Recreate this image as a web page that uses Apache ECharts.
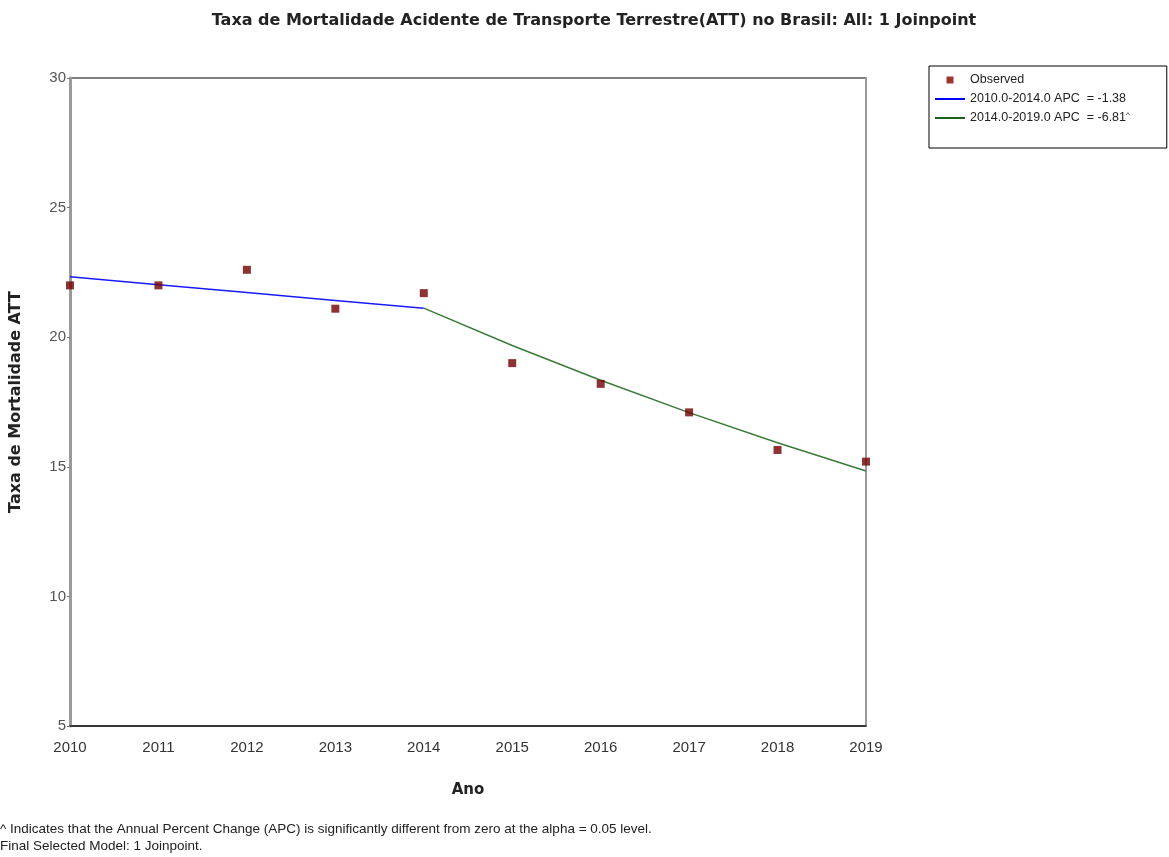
<!doctype html>
<html lang="pt">
<head>
  <meta charset="UTF-8">
  <title>Taxa de Mortalidade ATT</title>
  <style>
    html, body { margin: 0; padding: 0; background: #fff; }
    #chart { width: 1169px; height: 857px; }
  </style>
  <script src="https://cdn.jsdelivr.net/npm/echarts@6/dist/echarts.min.js"></script>
</head>
<body>
  <div id="chart"></div>
  <script>
    // anos e valores
    var anos = [2010, 2011, 2012, 2013, 2014, 2015, 2016, 2017, 2018, 2019];
    var observado = [22.0, 22.0, 22.6, 21.1, 21.7, 19.0, 18.2, 17.1, 15.65, 15.2];
    var anosSeg1 = [2010, 2011, 2012, 2013, 2014];
    var ajusteSeg1 = [22.33, 22.02, 21.72, 21.42, 21.12];
    var anosSeg2 = [2014, 2015, 2016, 2017, 2018, 2019];
    var ajusteSeg2 = [21.12, 19.68, 18.34, 17.09, 15.93, 14.84];
    var yTicks = [5, 10, 15, 20, 25, 30];

    var nomeObs = 'Observed';
    var nomeSeg1 = '2010.0-2014.0 APC  = -1.38';
    var nomeSeg2 = '2014.0-2019.0 APC  = -6.81';

    function pares(xs, ys) {
      var out = [];
      for (var i = 0; i < xs.length; i++) out.push([xs[i], ys[i]]);
      return out;
    }

    var narrow = "'Liberation Sans Narrow', 'Arial Narrow', 'Liberation Sans', sans-serif";

    var myChart = echarts.init(document.getElementById('chart'));

    var option = {
      backgroundColor: '#fff',
      animation: false,
      title: [{
        text: 'Taxa de Mortalidade Acidente de Transporte Terrestre(ATT) no Brasil: All: 1 Joinpoint',
        left: 589,
        textAlign: 'center',
        top: 8,
        textStyle: { fontFamily: 'DejaVu Sans', fontWeight: 'bold', fontSize: 16, color: '#222' }
      }, {
        text: '^ Indicates that the Annual Percent Change (APC) is significantly different from zero at the alpha = 0.05 level.',
        left: 0,
        top: 822,
        padding: 0,
        textStyle: { fontFamily: narrow, fontWeight: 'normal', fontSize: 13.5, color: '#222' }
      }, {
        text: 'Final Selected Model: 1 Joinpoint.',
        left: 0,
        top: 839,
        padding: 0,
        textStyle: { fontFamily: narrow, fontWeight: 'normal', fontSize: 13.5, color: '#222' }
      }],
      legend: {
        orient: 'vertical',
        left: 929,
        top: 66,
        padding: [7, 37, 23, 6],
        itemGap: 5,
        itemWidth: 30,
        itemHeight: 7,
        borderColor: '#000',
        borderWidth: 1,
        backgroundColor: '#fff',
        textStyle: {
          fontFamily: narrow, fontSize: 12.5, color: '#222', lineHeight: 14,
          rich: { sup: { fontFamily: narrow, fontSize: 8, verticalAlign: 'top', padding: [0, 0, 8, 0] } }
        },
        formatter: function (n) {
          return n === nomeSeg2 ? n + '{sup|^}' : n;
        },
        data: [
          { name: nomeObs, icon: 'path://M0,0 L6,0 L6,6 L0,6 Z', itemStyle: { color: '#8b0000' } },
          { name: nomeSeg1, icon: 'path://M0,0 L30,0 L30,2 L0,2 Z', itemStyle: { color: '#0000ff' } },
          { name: nomeSeg2, icon: 'path://M0,0 L30,0 L30,2 L0,2 Z', itemStyle: { color: '#1f5f1f' } }
        ]
      },
      grid: {
        left: 67, right: 303, top: 78, bottom: 131,
        show: true, borderColor: '#000', borderWidth: 1, backgroundColor: '#fff'
      },
      xAxis: {
        type: 'value',
        min: 2010, max: 2019, interval: 1,
        name: 'Ano',
        nameLocation: 'middle',
        nameGap: 57,
        nameTextStyle: { fontFamily: 'DejaVu Sans', fontWeight: 'bold', fontSize: 15, color: '#222' },
        axisLine: { show: true, lineStyle: { color: '#222', width: 1.5 } },
        axisTick: { show: false },
        splitLine: { show: false },
        axisLabel: {
          fontFamily: narrow, fontSize: 15, color: '#333', margin: 14,
          formatter: function (v) { return String(v); }
        }
      },
      yAxis: [{
        type: 'value',
        min: yTicks[0], max: yTicks[yTicks.length - 1], interval: 5,
        name: 'Taxa de Mortalidade ATT',
        nameLocation: 'middle',
        nameGap: 46,
        nameTextStyle: { fontFamily: 'DejaVu Sans', fontWeight: 'bold', fontSize: 16, color: '#222' },
        axisLine: { show: true, lineStyle: { color: '#9a9a9a', width: 3 } },
        axisTick: { show: true, length: 3, lineStyle: { color: '#777' } },
        splitLine: { show: false },
        axisLabel: { fontFamily: narrow, fontSize: 15, color: '#555', margin: 4 }
      }, {
        type: 'value',
        position: 'right',
        min: yTicks[0], max: yTicks[yTicks.length - 1], interval: 5,
        axisLine: { show: true, lineStyle: { color: '#9a9a9a', width: 2 } },
        axisTick: { show: false },
        axisLabel: { show: false },
        splitLine: { show: false }
      }],
      series: [{
        name: nomeSeg1,
        type: 'line',
        data: pares(anosSeg1, ajusteSeg1),
        symbol: 'none',
        lineStyle: { color: '#1a1aff', width: 1.5 },
        itemStyle: { color: '#0000ff' },
        z: 2
      }, {
        name: nomeSeg2,
        type: 'line',
        data: pares(anosSeg2, ajusteSeg2),
        symbol: 'none',
        lineStyle: { color: '#3a7a3a', width: 1.5 },
        itemStyle: { color: '#1f5f1f' },
        z: 2
      }, {
        name: nomeObs,
        type: 'scatter',
        data: pares(anos, observado),
        symbol: 'rect',
        symbolSize: 8,
        itemStyle: { color: '#700000' },
        clip: false,
        z: 3
      }]
    };

    myChart.setOption(option);
  </script>
</body>
</html>
